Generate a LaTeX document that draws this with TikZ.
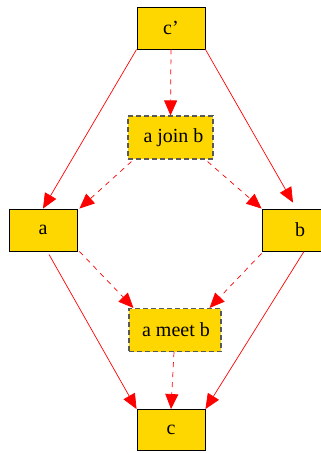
\documentclass[tikz,border=0pt]{standalone}
\usepackage{fontspec}
\setmainfont{Liberation Serif}
\usetikzlibrary{arrows.meta}
\definecolor{gvgold}{RGB}{255,215,0}
\tikzset{
  box/.style={draw=black, line width=0.9pt, fill=gvgold, inner sep=0pt, minimum width=68pt, minimum height=42pt, font=\fontsize{20}{22}\selectfont},
  dbox/.style={box, draw=black!65, line width=1.1pt, dash pattern=on 5pt off 3pt},
  edge/.style={draw=red, line width=0.7pt, -{Triangle[length=15pt,width=13pt]}},
  dedge/.style={edge, dash pattern=on 5pt off 5pt}
}
\begin{document}
\begin{tikzpicture}[x=1pt,y=-1pt]
\useasboundingbox (0,0) rectangle (321,453);
\node[box] (cp) at (171,28) {c’};
\node[dbox, minimum width=85pt, minimum height=43pt] (ajb) at (170.5,137.5) {\hspace*{6pt}a join b};
\node[box] (a) at (43,230) {a};
\node[box] (b) at (296,230) {\hspace*{8pt}b};
\node[dbox, minimum width=92pt, minimum height=43pt] (amb) at (175,330) {\hspace*{2pt}a meet b};
\node[box, minimum height=41pt] (c) at (171,430) {c};

\draw[edge] (cp.south west) -- (a.north);
\draw[edge] (cp.south east) -- ([xshift=-3pt,yshift=6pt]b.north);
\draw[dedge] (cp.south) -- (ajb.north);
\draw[dedge] ([xshift=4pt,yshift=-2pt]ajb.south west) -- ([xshift=2pt]a.north east);
\draw[dedge] ([xshift=-6pt,yshift=-2pt]ajb.south east) -- (b.north west);
\draw[dedge] ([xshift=2pt]a.south east) -- ([xshift=5pt]amb.north west);
\draw[dedge] ([yshift=-2pt]b.south west) -- ([xshift=-12pt]amb.north east);
\draw[edge] ([xshift=6pt,yshift=-3pt]a.south) -- (c.north west);
\draw[edge] ([xshift=8pt]b.south) -- (c.north east);
\draw[dedge] ([xshift=-1pt]amb.south) -- (c.north);
\end{tikzpicture}
\end{document}
